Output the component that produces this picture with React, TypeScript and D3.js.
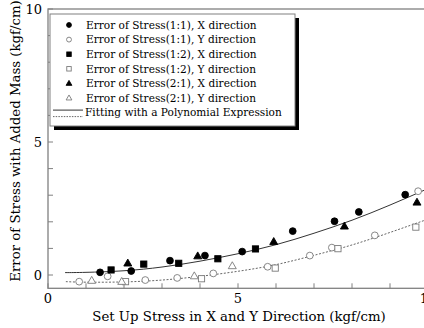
import React from "react";
import * as d3 from "d3";

// Data
const xTickLabels = [0, 5, 10];
const yTickLabels = [0, 5, 10];

const s11X_x = [1.37, 2.19, 3.21, 4.13, 5.11, 6.44, 7.54, 8.18, 9.4];
const s11X_y = [0.1, 0.15, 0.54, 0.73, 0.88, 1.65, 2.02, 2.37, 3.02];

const s11Y_x = [0.82, 1.57, 2.56, 3.4, 4.35, 5.78, 6.89, 7.47, 8.6, 9.74];
const s11Y_y = [-0.25, -0.05, -0.19, -0.11, 0.06, 0.31, 0.73, 1.03, 1.49, 3.15];

const s12X_x = [1.66, 2.52, 3.44, 4.47, 5.46];
const s12X_y = [0.19, 0.41, 0.44, 0.61, 0.98];

const s12Y_x = [2.04, 4.04, 5.98, 7.63, 9.68];
const s12Y_y = [-0.25, -0.14, 0.26, 0.99, 1.8];

const s21X_x = [2.1, 3.94, 5.94, 7.8, 9.71];
const s21X_y = [0.44, 0.71, 1.25, 1.83, 2.73];

const s21Y_x = [1.15, 1.94, 3.85, 4.85];
const s21Y_y = [-0.21, -0.25, -0.04, 0.34];

const fitX_x = [0.45, 1, 2, 3, 4, 5, 6, 7, 8, 9, 10];
const fitX_y = [0.09, 0.1, 0.16, 0.3, 0.52, 0.8, 1.14, 1.57, 2.06, 2.63, 3.25];

const fitY_x = [0.47, 1, 2, 3, 4, 5, 6, 7, 8, 9, 10];
const fitY_y = [-0.25, -0.27, -0.26, -0.19, -0.05, 0.14, 0.39, 0.74, 1.13, 1.6, 2.1];

const legendLabels = [
  "Error of Stress(1:1), X direction",
  "Error of Stress(1:1), Y direction",
  "Error of Stress(1:2), X direction",
  "Error of Stress(1:2), Y direction",
  "Error of Stress(2:1), X direction",
  "Error of Stress(2:1), Y direction",
  "Fitting with a Polynomial Expression",
];

const FONT = "'DejaVu Serif', serif";
const OPEN = "#7a7a7a";

type Kind = "fc" | "oc" | "fs" | "os" | "ft" | "ot";

function Marker({ kind, x, y, s = 1 }: { kind: Kind; x: number; y: number; s?: number }) {
  const filled = kind[0] === "f";
  const fill = filled ? "#000" : "#fff";
  const stroke = filled ? "#000" : OPEN;
  const sw = 0.9;
  if (kind[1] === "c") {
    return <circle cx={x} cy={y} r={3.4 * s} fill={fill} stroke={stroke} strokeWidth={sw} />;
  }
  if (kind[1] === "s") {
    const h = 3.1 * s;
    return <rect x={x - h} y={y - h} width={2 * h} height={2 * h} fill={fill} stroke={stroke} strokeWidth={sw} />;
  }
  const r = 4.2 * s;
  const p = `M${x},${y - r} L${x + r * 0.95},${y + r * 0.65} L${x - r * 0.95},${y + r * 0.65} Z`;
  return <path d={p} fill={fill} stroke={stroke} strokeWidth={sw} />;
}

export default function App() {
  const W = 424;
  const H = 328;
  const x = d3.scaleLinear().domain([0, 10]).range([48, 428]);
  const y = d3.scaleLinear().domain([-0.5, 10]).range([288.3, 9]);

  const line = d3
    .line<[number, number]>()
    .x((d) => x(d[0]))
    .y((d) => y(d[1]))
    .curve(d3.curveNatural);

  const fitXPts = fitX_x.map((v, i) => [v, fitX_y[i]] as [number, number]);
  const fitYPts = fitY_x.map((v, i) => [v, fitY_y[i]] as [number, number]);

  const series: { kind: Kind; xs: number[]; ys: number[] }[] = [
    { kind: "oc", xs: s11Y_x, ys: s11Y_y },
    { kind: "os", xs: s12Y_x, ys: s12Y_y },
    { kind: "ot", xs: s21Y_x, ys: s21Y_y },
    { kind: "fc", xs: s11X_x, ys: s11X_y },
    { kind: "fs", xs: s12X_x, ys: s12X_y },
    { kind: "ft", xs: s21X_x, ys: s21X_y },
  ];
  const legendKinds: Kind[] = ["fc", "oc", "fs", "os", "ft", "ot"];

  const xMinor = d3.range(0, 11, 1);
  const yMinor = d3.range(0, 11, 1);
  const bottom = y(-0.5);
  const top = y(10);
  const left = x(0);
  const right = x(10);

  const lgX = 50, lgY = 14, lgW = 245, lgH = 112;
  const rowY = (i: number) => 25 + i * 14.6;

  return (
    <svg width={W} height={H} style={{ position: "absolute", left: 0, top: 0, background: "#fff" }}>
      <rect x={0} y={0} width={W} height={H} fill="#fff" />
      <defs>
        <clipPath id="plot">
          <rect x={left} y={top} width={right - left} height={bottom - top} />
        </clipPath>
      </defs>
      {/* frame */}
      <rect x={left} y={top} width={right - left} height={bottom - top} fill="none" stroke="#808080" strokeWidth={1.3} />
      {/* ticks */}
      {xMinor.map((t) => (
        <line key={"xt" + t} x1={x(t)} x2={x(t)} y1={bottom} y2={bottom - 5} stroke="#808080" strokeWidth={1} />
      ))}
      {yMinor.map((t) => (
        <line key={"yt" + t} x1={left} x2={left + 5} y1={y(t)} y2={y(t)} stroke="#808080" strokeWidth={1} />
      ))}
      {xTickLabels.map((t) => (
        <text key={"xl" + t} x={x(t)} y={bottom + 15} fontFamily={FONT} fontSize={13} textAnchor="middle" fill="#000">
          {t}
        </text>
      ))}
      {yTickLabels.map((t) => (
        <text key={"yl" + t} x={left - 6} y={y(t) + 4.5} fontFamily={FONT} fontSize={13} textAnchor="end" fill="#000">
          {t}
        </text>
      ))}
      <text x={239} y={321} fontFamily={FONT} fontSize={13.3} textAnchor="middle" fill="#000">
        Set Up Stress in X and Y Direction (kgf/cm)
      </text>
      <text
        transform={`translate(20,141) rotate(-90)`}
        fontFamily={FONT}
        fontSize={13.3}
        textAnchor="middle"
        fill="#000"
      >
        Error of Stress with Added Mass (kgf/cm)
      </text>

      <g clipPath="url(#plot)">
        <path d={line(fitXPts) || ""} fill="none" stroke="#333" strokeWidth={1} />
        <path d={line(fitYPts) || ""} fill="none" stroke="#666" strokeWidth={1} strokeDasharray="2,1.6" />
        {series.map((s) =>
          s.xs.map((v, i) => <Marker key={s.kind + i} kind={s.kind} x={x(v)} y={y(s.ys[i])} />)
        )}
      </g>

      {/* legend */}
      <rect x={lgX + 4} y={lgY + 4} width={lgW} height={lgH} fill="#000" />
      <rect x={lgX} y={lgY} width={lgW} height={lgH} fill="#fff" stroke="#808080" strokeWidth={1} />
      {legendKinds.map((k, i) => (
        <Marker key={"lg" + k} kind={k} x={69} y={rowY(i)} s={0.72} />
      ))}
      <line x1={53} x2={83} y1={rowY(6) - 2.5} y2={rowY(6) - 2.5} stroke="#333" strokeWidth={1} />
      <line x1={53} x2={83} y1={rowY(6) + 4} y2={rowY(6) + 4} stroke="#666" strokeWidth={1} strokeDasharray="1.5,1.2" />
      {legendLabels.map((t, i) => (
        <text key={"lt" + i} x={i === 6 ? 85 : 86} y={rowY(i) + 3.8} fontFamily={FONT} fontSize={10.55} fill="#000">
          {t}
        </text>
      ))}
    </svg>
  );
}
